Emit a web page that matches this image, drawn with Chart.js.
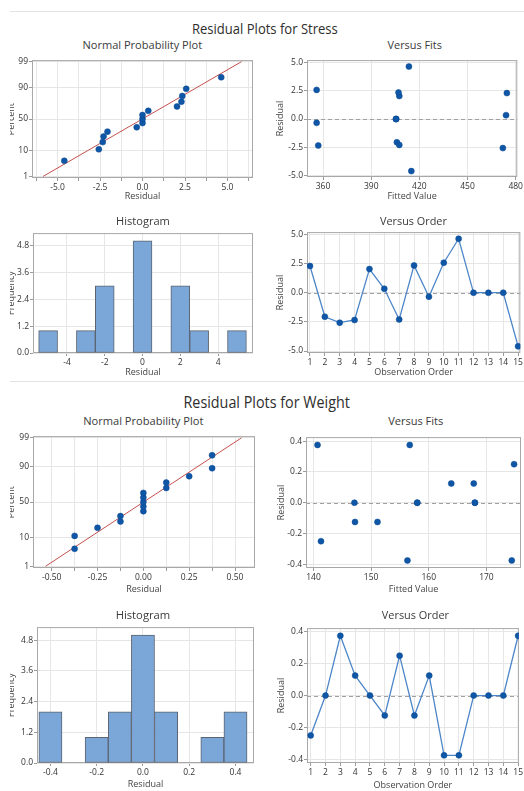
<!DOCTYPE html>
<html>
<head>
<meta charset="utf-8">
<script src="https://cdn.jsdelivr.net/npm/chart.js@4.4.1/dist/chart.umd.min.js"></script>
<style>
  body { margin: 0; background: #fff; }
  #page { position: relative; width: 524px; height: 791px; overflow: hidden; font-family: 'Open Sans', 'Noto Sans', sans-serif; color: #333; }
  .rule { position: absolute; left: 10px; right: 0; height: 1px; background: #e3e3e3; }
  .ttl { position: absolute; white-space: nowrap; line-height: 1; }
  canvas { position: absolute; }
</style>
</head>
<body>
<div id="page">
  <div class="rule" style="top:11px"></div>
  <div class="rule" style="top:381px"></div>
</div>
<script>
// ---- data ----
const obsOrder = [1, 2, 3, 4, 5, 6, 7, 8, 9, 10, 11, 12, 13, 14, 15];
const pctTicks = [1, 10, 50, 90, 99];
const nppPct = [4.5, 11.0, 17.5, 24.0, 30.5, 37.0, 43.5, 50.0, 56.5, 63.0, 69.5, 76.0, 82.5, 89.0, 95.5];
const freqTicks = [0, 1.2, 2.4, 3.6, 4.8];

// Stress
const stressResid = [2.29, -2.06, -2.57, -2.34, 2.03, 0.34, -2.29, 2.34, -0.34, 2.57, 4.63, 0, 0, 0, -4.6];
const stressFits = [474.5, 406, 472, 357, 407.5, 474, 407.5, 407, 356, 356, 413.5, 405.5, 405.5, 405.5, 415];
const stressLineX = [-5.85, 5.82];
const stressLineP = [1, 99];
const stressBins = [-5, -4, -3, -2, -1, 0, 1, 2, 3, 4, 5];
const stressCounts = [1, 0, 1, 3, 0, 5, 0, 3, 1, 0, 1];
const stressResidTicks = [-5, -2.5, 0, 2.5, 5];
const stressNppGrid = [-6.25, -5, -3.75, -2.5, -1.25, 0, 1.25, 2.5, 3.75, 5, 6.25];
const stressFitTicks = [360, 390, 420, 450, 480];
const stressHistTicks = [-4, -2, 0, 2, 4];

// Weight
const weightResid = [-0.25, 0, 0.375, 0.125, 0, -0.125, 0.25, -0.125, 0.125, -0.375, -0.375, 0, 0, 0, 0.375];
const weightFits = [141.3, 147.1, 140.7, 163.9, 158.0, 147.2, 174.8, 151.1, 167.8, 156.3, 174.4, 168.0, 158.0, 168.0, 156.7];
const weightLineX = [-0.533, 0.535];
const weightLineP = [1, 99];
const weightBins = [-0.4, -0.3, -0.2, -0.1, 0, 0.1, 0.2, 0.3, 0.4];
const weightCounts = [2, 0, 1, 2, 5, 2, 0, 1, 2];
const weightResidTicks = [-0.4, -0.2, 0, 0.2, 0.4];
const weightNppTicks = [-0.5, -0.25, 0, 0.25, 0.5];
const weightNppGrid = [-0.5, -0.375, -0.25, -0.125, 0, 0.125, 0.25, 0.375, 0.5];
const weightFitTicks = [140, 150, 160, 170];
const weightHistTicks = [-0.4, -0.2, 0, 0.2, 0.4];

// ---- helpers ----
Chart.defaults.font.family = "'Open Sans', 'Noto Sans', sans-serif";
Chart.defaults.color = '#333';
const page = document.getElementById('page');
const BLUE = '#0f56a6';

// inverse normal cdf (Acklam), used for the probability axis
function probit(p) {
  const a = [-39.69683028665376, 220.9460984245205, -275.9285104469687, 138.3577518672690, -30.66479806614716, 2.506628277459239];
  const b = [-54.47609879822406, 161.5858368580409, -155.6989798598866, 66.80131188771972, -13.28068155211918];
  const c = [-0.007784894002430293, -0.3223964580411365, -2.400758277161838, -2.549732539343734, 4.374664141464968, 2.938163982698783];
  const d = [0.007784695709041462, 0.3224671290700398, 2.445134137142996, 3.754408661907416];
  const lo = 0.02425;
  let q, r;
  if (p < lo) {
    q = Math.sqrt(-2 * Math.log(p));
    return (((((c[0]*q+c[1])*q+c[2])*q+c[3])*q+c[4])*q+c[5]) / ((((d[0]*q+d[1])*q+d[2])*q+d[3])*q+1);
  }
  if (p > 1 - lo) {
    q = Math.sqrt(-2 * Math.log(1 - p));
    return -(((((c[0]*q+c[1])*q+c[2])*q+c[3])*q+c[4])*q+c[5]) / ((((d[0]*q+d[1])*q+d[2])*q+d[3])*q+1);
  }
  q = p - 0.5; r = q * q;
  return (((((a[0]*r+a[1])*r+a[2])*r+a[3])*r+a[4])*r+a[5])*q / (((((b[0]*r+b[1])*r+b[2])*r+b[3])*r+b[4])*r+1);
}

function axis(min, max, vals, label) {
  return {
    type: 'linear', min: min, max: max, offset: false,
    afterBuildTicks: s => { s.ticks = vals.map(v => ({ value: v })); },
    ticks: { autoSkip: false, maxRotation: 0, padding: 1, font: { size: 8.5 }, color: '#333',
             callback: (v, i) => label(vals[i], i) },
    grid: { color: '#e6e6e6', tickColor: '#9a9a9a', tickLength: 3, offset: false },
    border: { display: false }
  };
}
const fix = (n, only) => v => (only && !only.includes(v)) ? '' : v.toFixed(n);

// plot frame + dashed zero reference line
const framePlugin = {
  id: 'frame',
  beforeDatasetsDraw(chart, args, opts) {
    const a = chart.chartArea, ctx = chart.ctx;
    ctx.save();
    if (opts.zero) {
      const y = Math.round(chart.scales.y.getPixelForValue(0)) + 0.5;
      ctx.strokeStyle = '#a0a0a0'; ctx.lineWidth = 1; ctx.setLineDash([4, 3]);
      ctx.beginPath(); ctx.moveTo(a.left, y); ctx.lineTo(a.right, y); ctx.stroke();
      ctx.setLineDash([]);
    }
    ctx.strokeStyle = '#a8a8a8'; ctx.lineWidth = 1;
    ctx.strokeRect(a.left + 0.5, a.top + 0.5, a.right - a.left - 1, a.bottom - a.top - 1);
    ctx.restore();
  }
};

function plot(p) {
  const pt = 6, pr = 3;
  const top = p.t - pt;
  const padB = Math.round(p.xtY + 5.4 - p.b);
  const w = p.r + pr - p.cl, h = p.b + padB - top;
  const cv = document.createElement('canvas');
  cv.width = w; cv.height = h;
  cv.style.left = p.cl + 'px'; cv.style.top = top + 'px';
  cv.style.width = w + 'px'; cv.style.height = h + 'px';
  page.appendChild(cv);
  p.x.afterFit = s => { s.height = padB; };
  p.y.afterFit = s => { s.width = p.l - p.cl; };
  p.x.title = { display: true, text: p.xt, color: '#444', font: { size: 9 }, padding: 0 };
  p.y.title = { display: true, text: p.yt, color: '#444', font: { size: 9 },
                padding: { top: p.ytX - p.cl - 5.4, bottom: 0 } };
  new Chart(cv, {
    type: p.type || 'scatter',
    data: { datasets: p.datasets },
    options: {
      responsive: false, animation: false, devicePixelRatio: 1,
      layout: { autoPadding: false, padding: { top: pt, right: pr, left: 0, bottom: 0 } },
      plugins: { legend: { display: false }, tooltip: { enabled: false }, frame: { zero: !!p.zero } },
      scales: { x: p.x, y: p.y }
    },
    plugins: [framePlugin]
  });
}

const pts = (xs, ys) => xs.map((x, i) => ({ x: x, y: ys[i] }));
const dots = data => ({ data: data, pointRadius: 3, pointBackgroundColor: BLUE, pointBorderColor: '#0a4a92',
                        pointBorderWidth: 0.5, showLine: false });
const npp = (resid, lineX, lineP) => [
  dots(pts([...resid].sort((a, b) => a - b), nppPct.map(v => probit(v / 100)))),
  { data: pts(lineX, lineP.map(v => probit(v / 100))), showLine: true, pointRadius: 0,
    borderColor: '#c4504d', borderWidth: 1 }
];
const orderLine = resid => [Object.assign(dots(pts(obsOrder, resid)),
  { showLine: true, borderColor: '#4d86c8', borderWidth: 1.3 })];
const hist = (bins, counts) => [{ data: pts(bins, counts), backgroundColor: '#7ba6d8', borderColor: '#5b6470',
  borderWidth: 1, borderSkipped: false, barPercentage: 1, categoryPercentage: 1 }];
const pctAxis = () => axis(probit(0.0084), probit(0.9916), pctTicks.map(v => probit(v / 100)),
  (v, i) => String(pctTicks[i]));

// ---- Stress ----
plot({ l: 32, t: 60, r: 253, b: 178, cl: 10, xt: 'Residual', xtY: 197, yt: 'Percent', ytX: 11,
  x: axis(-6.5, 6.5, stressNppGrid, fix(1, stressResidTicks)), y: pctAxis(),
  datasets: npp(stressResid, stressLineX, stressLineP) });
plot({ l: 307, t: 60, r: 521, b: 177, cl: 273, xt: 'Fitted Value', xtY: 197, yt: 'Residual', ytX: 280, zero: true,
  x: axis(350, 481, stressFitTicks, fix(0)), y: axis(-5.12, 5.2, stressResidTicks, fix(1)),
  datasets: [dots(pts(stressFits, stressResid))] });
plot({ l: 33, t: 233, r: 253, b: 353, cl: 10, xt: 'Residual', xtY: 373, yt: 'Frequency', ytX: 11, type: 'bar',
  x: axis(-5.8, 5.85, stressHistTicks, fix(0)), y: axis(0, 5.35, freqTicks, fix(1)),
  datasets: hist(stressBins, stressCounts) });
plot({ l: 307, t: 232, r: 521, b: 353, cl: 273, xt: 'Observation Order', xtY: 373, yt: 'Residual', ytX: 280, zero: true,
  x: axis(0.8, 15.15, obsOrder, fix(0)), y: axis(-5.17, 5.2, stressResidTicks, fix(1)),
  datasets: orderLine(stressResid) });

// ---- Weight ----
plot({ l: 33, t: 436, r: 255, b: 568, cl: 10, xt: 'Residual', xtY: 590, yt: 'Percent', ytX: 11,
  x: axis(-0.602, 0.609, weightNppGrid, fix(2, weightNppTicks)), y: pctAxis(),
  datasets: npp(weightResid, weightLineX, weightLineP) });
plot({ l: 306, t: 437, r: 521, b: 568, cl: 272, xt: 'Fitted Value', xtY: 590, yt: 'Residual', ytX: 281, zero: true,
  x: axis(138.7, 176, weightFitTicks, fix(0)), y: axis(-0.424, 0.426, weightResidTicks, fix(1)),
  datasets: [dots(pts(weightFits, weightResid))] });
plot({ l: 37, t: 627, r: 254, b: 763, cl: 10, xt: 'Residual', xtY: 785, yt: 'Frequency', ytX: 11, type: 'bar',
  x: axis(-0.458, 0.48, weightHistTicks, fix(1)), y: axis(0, 5.31, freqTicks, fix(1)),
  datasets: hist(weightBins, weightCounts) });
plot({ l: 307, t: 628, r: 521, b: 763, cl: 273, xt: 'Observation Order', xtY: 786, yt: 'Residual', ytX: 281, zero: true,
  x: axis(0.75, 15.05, obsOrder, fix(0)), y: axis(-0.423, 0.423, weightResidTicks, fix(1)),
  datasets: orderLine(weightResid) });

// ---- titles (text, centre x, centre y, size, width in the picture) ----
const titles = [
  ['Residual Plots for Stress', 265, 28, 15, 146],
  ['Normal Probability Plot', 142.5, 45, 11.5, 120],
  ['Versus Fits', 414, 45, 11.5, 54],
  ['Histogram', 143, 221, 11.5, 54],
  ['Versus Order', 413.7, 221, 11.5, 67],
  ['Residual Plots for Weight', 266, 401, 17, 166],
  ['Normal Probability Plot', 143, 421, 11.5, 120.6],
  ['Versus Fits', 415, 420.7, 11.5, 54.7],
  ['Histogram', 143.3, 615, 11.5, 54.7],
  ['Versus Order', 415, 615, 11.5, 67.4]
];
titles.forEach(([text, cx, cy, size, tw]) => {
  const el = document.createElement('div');
  el.className = 'ttl';
  el.textContent = text;
  el.style.fontSize = size + 'px';
  el.style.color = size > 14 ? '#2e2e2e' : '#3a3a3a';
  page.appendChild(el);
  const k = tw / el.offsetWidth;
  el.style.left = (cx - el.offsetWidth / 2) + 'px';
  el.style.top = (cy - el.offsetHeight / 2) + 'px';
  el.style.transform = 'scaleX(' + k.toFixed(3) + ')';
});
</script>
</body>
</html>
